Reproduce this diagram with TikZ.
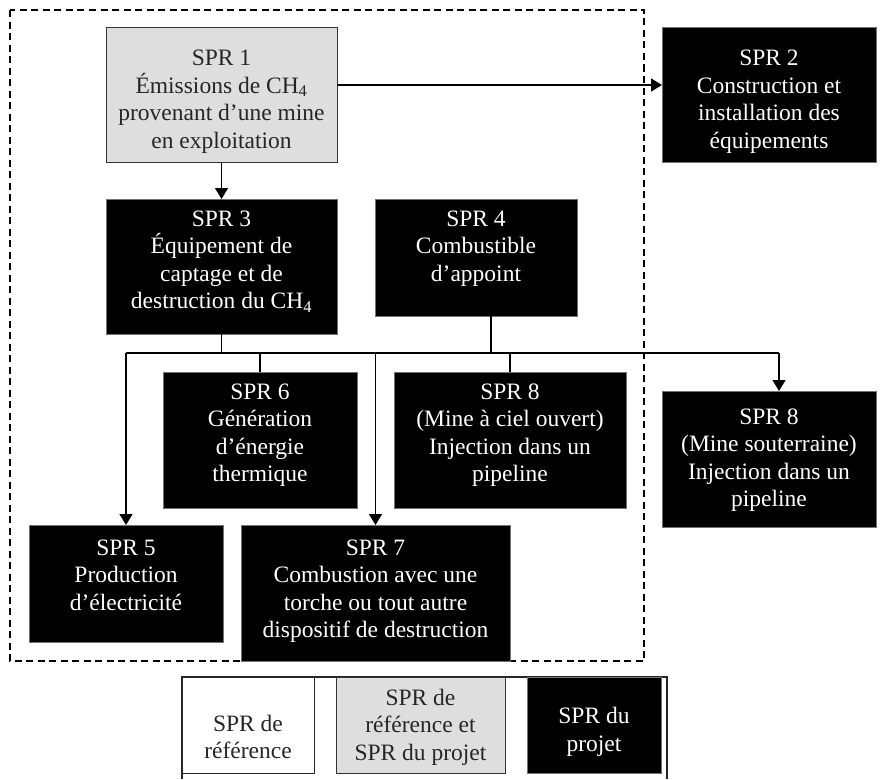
\documentclass[tikz,border=0pt]{standalone}
\usepackage{fontspec}
\setmainfont{Liberation Serif}
\usetikzlibrary{arrows.meta}
\definecolor{lgrey}{HTML}{DEDEDE}
\begin{document}
\begin{tikzpicture}[x=1pt,y=-1pt,
  box/.style={draw=#1, line width=0.8pt, inner sep=0pt, outer sep=0pt},
  bbox/.style={box=black!55, fill=black},
  gbox/.style={box=black!80, fill=lgrey},
  wbox/.style={box=black!85, fill=white},
  txt/.style={inner sep=0pt, outer sep=0pt, align=center, anchor=north, font=\fontsize{23.5}{27.5}\selectfont},
  wtxt/.style={txt, text=white},
  dtxt/.style={txt, text=black!85},
  conn/.style={line width=1.3pt, draw=black},
  arr/.style={conn, -{Triangle[length=11pt,width=13pt]}},
  frame/.style={line width=1.1pt, draw=black!85},
  zone/.style={line width=1.3pt, draw=black, dash pattern=on 7pt off 4.5pt},
]
\useasboundingbox (0,0) rectangle (883,779);

% dashed project zone
\draw[zone] (10,10) rectangle (644,661);

% boxes
\node[gbox, minimum width=231, minimum height=135] (s1) at (221.5,94.5) {};
\node[dtxt] (s1t) at (221.5,50) {SPR 1\\Émissions de CH\textsubscript{4}\\provenant d’une mine\\en exploitation};

\node[bbox, minimum width=214, minimum height=135] (s2) at (769,94.5) {};
\node[wtxt] (s2t) at (769,50) {SPR 2\\Construction et\\installation des\\équipements};

\node[bbox, minimum width=231, minimum height=135] (s3) at (221.5,266.5) {};
\node[wtxt] (s3t) at (221.5,210.5) {SPR 3\\Équipement de\\captage et de\\destruction du CH\textsubscript{4}};

\node[bbox, minimum width=202, minimum height=117] (s4) at (476,257.5) {};
\node[wtxt] (s4t) at (476,210.5) {SPR 4\\Combustible\\d’appoint};

\node[bbox, minimum width=194, minimum height=136] (s6) at (260,440) {};
\node[wtxt] (s6t) at (260,383.5) {SPR 6\\Génération\\d’énergie\\thermique};

\node[bbox, minimum width=232, minimum height=136] (s8l) at (510,440) {};
\node[wtxt] (s8lt) at (510,383.5) {SPR 8\\(Mine à ciel ouvert)\\Injection dans un\\pipeline};

\node[bbox, minimum width=214, minimum height=136] (s8r) at (769,459) {};
\node[wtxt] (s8rt) at (769,408.5) {SPR 8\\(Mine souterraine)\\Injection dans un\\pipeline};

\node[bbox, minimum width=194, minimum height=117] (s5) at (126,583.5) {};
\node[wtxt] (s5t) at (126,539.5) {SPR 5\\Production\\d’électricité};

\node[bbox, minimum width=269, minimum height=136] (s7) at (375.5,593) {};
\node[wtxt] (s7t) at (375.5,539.5) {SPR 7\\Combustion avec une\\torche ou tout autre\\dispositif de destruction};

% connectors
\draw[arr] ([yshift=9.5pt]s1.east) -- ([yshift=9.5pt]s2.west);
\draw[arr] (s1.south) -- (s3.north);

\coordinate (j3) at (221.5,353);
\coordinate (j4) at (491,353);
\coordinate (bl) at (126,353);
\coordinate (br) at (779,353);
\coordinate (j6) at (260,353);
\coordinate (j7) at (375.5,353);
\coordinate (j8) at (510,353);

\draw[conn] (s3.south) -- (j3);
\draw[conn] (j4 |- s4.south) -- (j4);
\draw[conn] (bl) -- (br);
\draw[arr] (bl) -- (s5.north);
\draw[conn] (j6) -- (s6.north);
\draw[arr] (j7) -- (s7.north);
\draw[conn] (j8) -- (s8l.north);
\draw[arr] (br) -- (br |- s8r.north);

% legend
\draw[frame] (182,779) -- (182,677) -- (667,677) -- (667,779);
\node[wbox, minimum width=132, minimum height=96] (lw) at (248,725) {};
\node[dtxt, anchor=center] (lwt) at (248,737) {SPR de\\référence};
\node[gbox, minimum width=169, minimum height=96] (lg) at (420.5,725) {};
\node[dtxt, anchor=center] (lgt) at (420.5,727) {SPR de\\référence et\\SPR du projet};
\node[bbox, minimum width=134, minimum height=96] (lb) at (594,725) {};
\node[wtxt, anchor=center] (lbt) at (594,732) {SPR du\\projet};
\end{tikzpicture}
\end{document}
